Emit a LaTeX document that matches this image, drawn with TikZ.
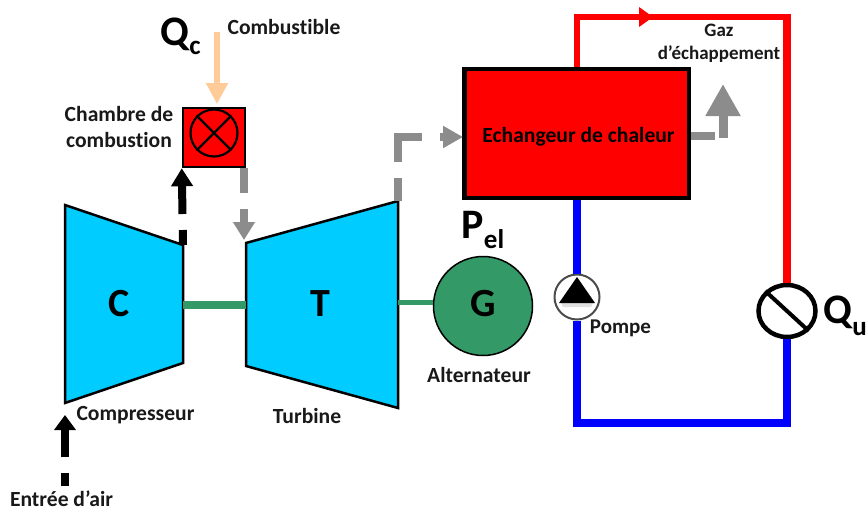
\documentclass[tikz,border=0pt]{standalone}
\usepackage{fontspec}
\setmainfont{Carlito}[RawFeature=-liga]
\usetikzlibrary{arrows.meta,calc,shapes.geometric}
\definecolor{cyanblue}{HTML}{00CCFF}
\definecolor{shaftgreen}{HTML}{339966}
\definecolor{flowgrey}{HTML}{8C8C8C}
\definecolor{fuel}{HTML}{FFCC99}
\definecolor{hotred}{HTML}{FF0000}
\definecolor{coldblue}{HTML}{0000FF}
\tikzset{
  machine/.style={draw=black,line width=2.5pt,fill=cyanblue,line join=miter},
  lab/.style={font=\fontsize{21.6}{26}\selectfont\bfseries,inner sep=0pt,align=center,text=black!90},
  sym/.style={font=\fontsize{40}{42}\selectfont\bfseries,inner sep=0pt},
  quant/.style={font=\fontsize{42}{44}\selectfont\bfseries,inner sep=0pt},
  sub/.style={font=\fontsize{27}{29}\selectfont\bfseries,inner sep=0pt},
  flowtip/.style={-{Triangle[length=#1,width=21pt]}},
  airflow/.style={draw=black,line width=8pt},
  gasflow/.style={draw=flowgrey,line width=8pt},
}
\begin{document}
\begin{tikzpicture}[x=1pt,y=-1pt]
\useasboundingbox[fill=white] (0,0) rectangle (867,511);
% machine corners
\coordinate (c1) at (65,205); \coordinate (c2) at (183,245);
\coordinate (c3) at (183,363); \coordinate (c4) at (65,403);
\coordinate (t1) at (246,243); \coordinate (t2) at (398,201);
\coordinate (t3) at (398,408); \coordinate (t4) at (246,366);
\coordinate (shaftC) at (183,305); \coordinate (shaftT) at (246,305);
\coordinate (shaftT2) at (398,302);
\coordinate (airIn) at (65,486); \coordinate (airApex) at (65,415);
\coordinate (fuelIn) at (217,32);
% nodes
\node[draw=black,line width=2.5pt,fill=hotred,minimum width=62pt,minimum height=59pt,inner sep=0pt] (cc) at (214,137.5) {};
\node[draw=black,line width=2.2pt,circle,minimum size=47pt,inner sep=0pt] (burner) at (214,133) {};
\node[draw=black,line width=4.5pt,fill=hotred,minimum width=224.5pt,minimum height=128.5pt,inner sep=0pt] (hx) at (576.5,133.5) {};
\node[draw=black,line width=1.5pt,fill=shaftgreen,circle,minimum size=99pt,inner sep=0pt] (gen) at (483,306) {};
\node[draw=black!70,line width=2pt,fill=white,circle,minimum size=45pt,inner sep=0pt] (pump) at (577,297) {};
\node[draw=black,line width=4.5pt,fill=white,ellipse,minimum width=57pt,minimum height=52pt,inner sep=0pt] (load) at (787,311) {};
% machines
\draw[machine] (c1) -- (c2) -- (c3) -- (c4) -- cycle;
\draw[machine] (t1) -- (t2) -- (t3) -- (t4) -- cycle;
% shafts
\draw[shaftgreen,line width=8pt] (shaftC) -- (shaftT);
\draw[shaftgreen,line width=5pt] (shaftT2) -- (gen.west |- shaftT2);
% symbols
\draw[black,line width=2.2pt] (burner.north west) -- (burner.south east) (burner.north east) -- (burner.south west);
\fill[black!12] (561,303) -- (593,303) -- (591,307) -- (563,307) -- cycle;
\fill[black] (577,277) -- (595,303) -- (559,303) -- cycle;
\draw[black,line width=4pt] (load.north west) -- (load.south east);
% air and gas flows
\draw[airflow,flowtip=15pt,dash pattern=on 13pt off 16pt on 100pt] (airIn) -- (airApex);
\draw[airflow,flowtip=18pt,dash pattern=on 15pt off 16pt on 100pt] (c2) -- (cc.south west);
\coordinate (ccOut) at (244,168); \coordinate (tIn) at (244,240);
\draw[gasflow,flowtip=18pt,dash pattern=on 25pt off 16pt on 100pt] (ccOut) -- (tIn);
\coordinate (hxIn) at (463,137);
\draw[gasflow,flowtip=20pt,dash pattern=on 23pt off 16pt on 49pt off 18pt on 100pt] (t2) |- (hxIn);
\coordinate (hxOut) at (691,136); \coordinate (hxStack) at (715,136);
\draw[gasflow] (hxOut) -- (hxStack);
\coordinate (stackIn) at (723,138); \coordinate (stackTop) at (723,84);
\draw[draw=flowgrey,line width=9pt,-{Triangle[length=32pt,width=33pt]}] (stackIn) -- (stackTop);
% fuel
\draw[fuel,line width=6pt,-{Triangle[length=21pt,width=21pt]}] (fuelIn) -- (217,104);
% hot circuit
\coordinate (hotA) at (577,67); \coordinate (hotB) at (577,17); \coordinate (hotC) at (787,17);
\draw[hotred,line width=6pt,line join=miter] (hotA) -- (hotB) -- (hotC);
\draw[hotred,line width=7.5pt] (787,14) -- (load.north);
\fill[hotred] (639,7) -- (653,17) -- (639,27) -- cycle;
% cold circuit
\coordinate (coldA) at (577,423); \coordinate (coldB) at (787,423);
\draw[coldblue,line width=8pt] (577,200) -- (pump.north);
\draw[coldblue,line width=8pt,line join=miter] (pump.south) -- (coldA) -- (coldB) -- (load.south);
% labels
\node[sym] at (119,304) {C};
\node[sym] at (320,304) {T};
\node[sym] at (483,304) {G};
\node[quant,anchor=base west] (qc) at (160,46) {Q};
\node[sub,anchor=base west] at ($(qc.base east)+(0,9)$) {c};
\node[quant,anchor=base west] (pel) at (461,238) {P};
\node[sub,anchor=base west] at ($(pel.base east)+(0,10)$) {el};
\node[quant,anchor=base west] (qu) at (823,323) {Q};
\node[sub,anchor=base west] at ($(qu.base east)+(0,12)$) {u};
\node[lab] at (284,27) {Combustible};
\node[lab] at (119,127) {Chambre de\\combustion};
\node[lab,text=black] at (578.5,137) {Echangeur de chaleur};
\node[lab,font=\fontsize{19}{23}\selectfont\bfseries] at (719,43) {Gaz\\d’échappement};
\node[lab,font=\fontsize{21}{23}\selectfont\bfseries] at (620.5,328) {Pompe};
\node[lab] at (479,375) {Alternateur};
\node[lab] at (135.5,415) {Compresseur};
\node[lab] at (307,416) {Turbine};
\node[lab] at (61.5,499) {Entrée d’air};
\end{tikzpicture}
\end{document}
